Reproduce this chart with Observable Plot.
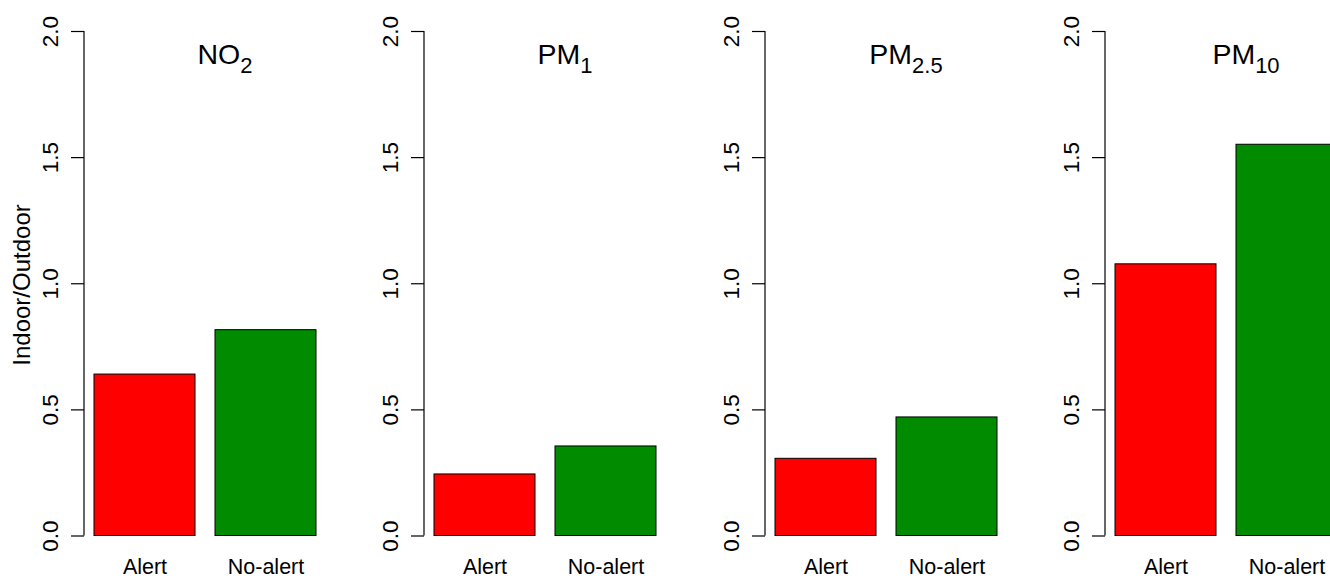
<!DOCTYPE html>
<html>
<head>
<meta charset="utf-8">
<script src="https://cdn.jsdelivr.net/npm/d3@7"></script>
<script src="https://cdn.jsdelivr.net/npm/@observablehq/plot@0.6"></script>
<style>
  html, body { margin: 0; padding: 0; background: #fff; overflow: hidden; width: 1330px; height: 578px; }
  #wrap { position: relative; width: 1330px; height: 578px; overflow: hidden; }
  .panel { position: absolute; top: 0; width: 340px; height: 578px; }
  .panel svg { max-width: none !important; }
</style>
</head>
<body>
<div id="wrap"></div>
<script>
// ---- data ----
const pollutants = ["NO2", "PM1", "PM2.5", "PM10"];
const titleBase = ["NO", "PM", "PM", "PM"];
const titleSub = ["2", "1", "2.5", "10"];
const groups = ["Alert", "No-alert"];
const alertValues = [0.640, 0.244, 0.306, 1.077];
const noAlertValues = [0.816, 0.355, 0.470, 1.551];
const yTicks = [0, 0.5, 1, 1.5, 2];
const yLabel = "Indoor/Outdoor";
const groupColors = ["#FF0000", "#008B00"];

const FONT = "'Liberation Sans', Arial, Helvetica, sans-serif";
const panelLefts = [0, 340, 681, 1021];
const wrap = document.getElementById("wrap");

pollutants.forEach((p, i) => {
  const rows = groups.map((g, j) => ({group: g, value: j === 0 ? alertValues[i] : noAlertValues[i]}));
  const chart = Plot.plot({
    width: 340,
    height: 578,
    marginLeft: 84,
    marginRight: 14,
    marginTop: 31,
    marginBottom: 42.5,
    style: {fontFamily: FONT, fontSize: "22px", background: "transparent", color: "#000", overflow: "visible"},
    x: {domain: groups, paddingInner: 0.164, paddingOuter: 0.074},
    y: {domain: [0, 2]},
    color: {domain: groups, range: groupColors},
    marks: [
      Plot.barY(rows, {x: "group", y: "value", fill: "group", stroke: "#000", strokeWidth: 1}),
      Plot.axisY(yTicks, {
        tickSize: 13, tickPadding: 13.5, tickRotate: -90, tickFormat: d3.format(".1f"),
        fontSize: 22.5, label: null, stroke: "#000", strokeWidth: 1.2
      }),
      Plot.axisX({tickSize: 0, tickPadding: 23, fontSize: 21.5, label: null})
    ]
  });
  const div = document.createElement("div");
  div.className = "panel";
  div.style.left = panelLefts[i] + "px";
  div.appendChild(chart);
  wrap.appendChild(div);

  const svg = d3.select(chart);
  const y = chart.scale("y");
  // R-style axis line spanning the tick range
  svg.append("line")
    .attr("x1", 84).attr("x2", 84)
    .attr("y1", y.apply(yTicks[0])).attr("y2", y.apply(yTicks[yTicks.length - 1]))
    .attr("stroke", "#000").attr("stroke-width", 1.2);

  const t = svg.append("text")
    .attr("x", 225).attr("y", 63.5)
    .attr("text-anchor", "middle")
    .attr("font-family", FONT)
    .attr("font-size", 28.5)
    .attr("fill", "#000");
  t.append("tspan").text(titleBase[i]);
  t.append("tspan").attr("dy", 9).attr("font-size", 22).text(titleSub[i]);

  if (i === 0) {
    svg.append("text")
      .attr("transform", "translate(30,285) rotate(-90)")
      .attr("text-anchor", "middle")
      .attr("font-family", FONT)
      .attr("font-size", 24)
      .attr("fill", "#000")
      .text(yLabel);
  }
});
</script>
</body>
</html>
